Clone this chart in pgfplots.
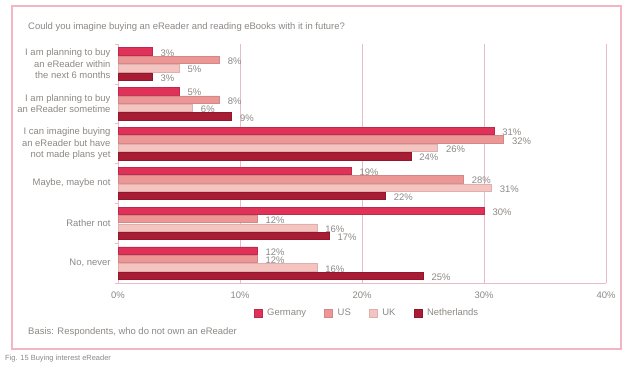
\documentclass[border=0pt]{standalone}
\usepackage{pgfplots}
\pgfplotsset{compat=1.18}
\usepackage{pgfplotstable}
\usepackage{fontspec}
\setmainfont{Liberation Sans}
\definecolor{cDE}{RGB}{224,50,88}
\definecolor{cUS}{RGB}{236,150,150}
\definecolor{cUK}{RGB}{245,196,192}
\definecolor{cNL}{RGB}{168,28,52}
\definecolor{frameC}{RGB}{244,180,196}
\definecolor{gridC}{RGB}{232,188,198}
\definecolor{txt}{RGB}{140,136,132}

\pgfplotstableread{
g v l
5 2.8 3
4 5.0 5
3 30.8 31
2 19.1 19
1 30.0 30
0 11.4 12
}\tDE
\pgfplotstableread{
g v l
5 8.3 8
4 8.3 8
3 31.6 32
2 28.3 28
1 11.4 12
0 11.4 12
}\tUS
\pgfplotstableread{
g v l
5 5.0 5
4 6.1 6
3 26.2 26
2 30.6 31
1 16.3 16
0 16.3 16
}\tUK
\pgfplotstableread{
g v l
5 2.8 3
4 9.3 9
3 24.0 24
2 21.9 22
1 17.3 17
0 25.0 25
}\tNL

\begin{document}
\begin{tikzpicture}
\useasboundingbox (0,0) rectangle (640bp,-374bp);
\draw[frameC, line width=1.4bp] (12bp,-6bp) rectangle (621bp,-349bp);
\node[anchor=west, text=txt, font=\fontsize{9.5}{11}\selectfont, inner sep=0pt] at (28bp,-27bp) {Could you imagine buying an eReader and reading eBooks with it in future?};
\node[anchor=west, text=txt, font=\fontsize{9.5}{11}\selectfont, inner sep=0pt] at (28bp,-332bp) {Basis: Respondents, who do not own an eReader};
\node[anchor=west, text=txt, font=\fontsize{7.5}{9}\selectfont, inner sep=0pt] at (5bp,-359bp) {Fig. 15 Buying interest eReader};
\begin{axis}[
  at={(118bp,-283bp)}, anchor=south west,
  scale only axis, width=488bp, height=239bp,
  xmin=0, xmax=40, ymin=-0.5, ymax=5.5,
  xbar, bar width=7.3bp,
  axis x line*=bottom, axis y line*=left,
  axis line style={draw=gridC, line width=0.8bp, -},
  xtick={0,10,20,30,40},
  xticklabels={0\%,10\%,20\%,30\%,40\%},
  xmajorgrids=true, xminorgrids=false, ymajorgrids=false, yminorgrids=false,
  major grid style={draw=gridC, line width=0.8bp},
  major tick length=0pt,
  ytick={0,1,2,3,4,5},
  yticklabels={{No, never},{Rather not},{Maybe, maybe not},{I can imagine buying\\an eReader but have\\not made plans yet},{I am planning to buy\\an eReader sometime},{I am planning to buy\\an eReader within\\the next 6 months}},
  extra y ticks={-0.5,0.5,1.5,2.5,3.5,4.5,5.5},
  extra y tick labels={},
  extra y tick style={major tick length=2.5bp, tick style={draw=gridC, line width=0.6bp}, ymajorgrids=false},
  tick align=outside,
  yticklabel style={align=right, text=txt, font=\fontsize{9.5}{11.5}\selectfont, xshift=-4bp},
  xticklabel style={text=txt, font=\fontsize{9.5}{11}\selectfont, yshift=-5bp},
  /pgf/number format/assume math mode=true,
  point meta=explicit symbolic,
  nodes near coords={\pgfplotspointmeta\%},
  every node near coord/.append style={text=txt, font=\fontsize{9.5}{11}\selectfont, anchor=west, xshift=5bp, yshift=-1.5bp},
  legend columns=4,
  legend style={at={(0.51,-0.125)}, anchor=center, draw=none, fill=none,
    font=\fontsize{9.5}{11}\selectfont, text=txt,
    /tikz/every odd column/.append style={column sep=3bp},
    /tikz/every even column/.append style={column sep=16bp}},
  legend image code/.code={\draw[#1, line width=0.6bp] (0bp,-4bp) rectangle (8bp,4bp);},
  clip=false,
]
\addplot[fill=cDE, draw=cDE!85!black, line width=0.5bp, bar shift=12.6bp] table[x=v, y=g, meta=l] {\tDE};
\addlegendentry{Germany}
\addplot[fill=cUS, draw=cUS!90!black, line width=0.5bp, bar shift=4.2bp] table[x=v, y=g, meta=l] {\tUS};
\addlegendentry{US}
\addplot[fill=cUK, draw=cUK!90!black, line width=0.5bp, bar shift=-4.2bp] table[x=v, y=g, meta=l] {\tUK};
\addlegendentry{UK}
\addplot[fill=cNL, draw=cNL!85!black, line width=0.5bp, bar shift=-12.6bp] table[x=v, y=g, meta=l] {\tNL};
\addlegendentry{Netherlands}
\end{axis}
\end{tikzpicture}
\end{document}
